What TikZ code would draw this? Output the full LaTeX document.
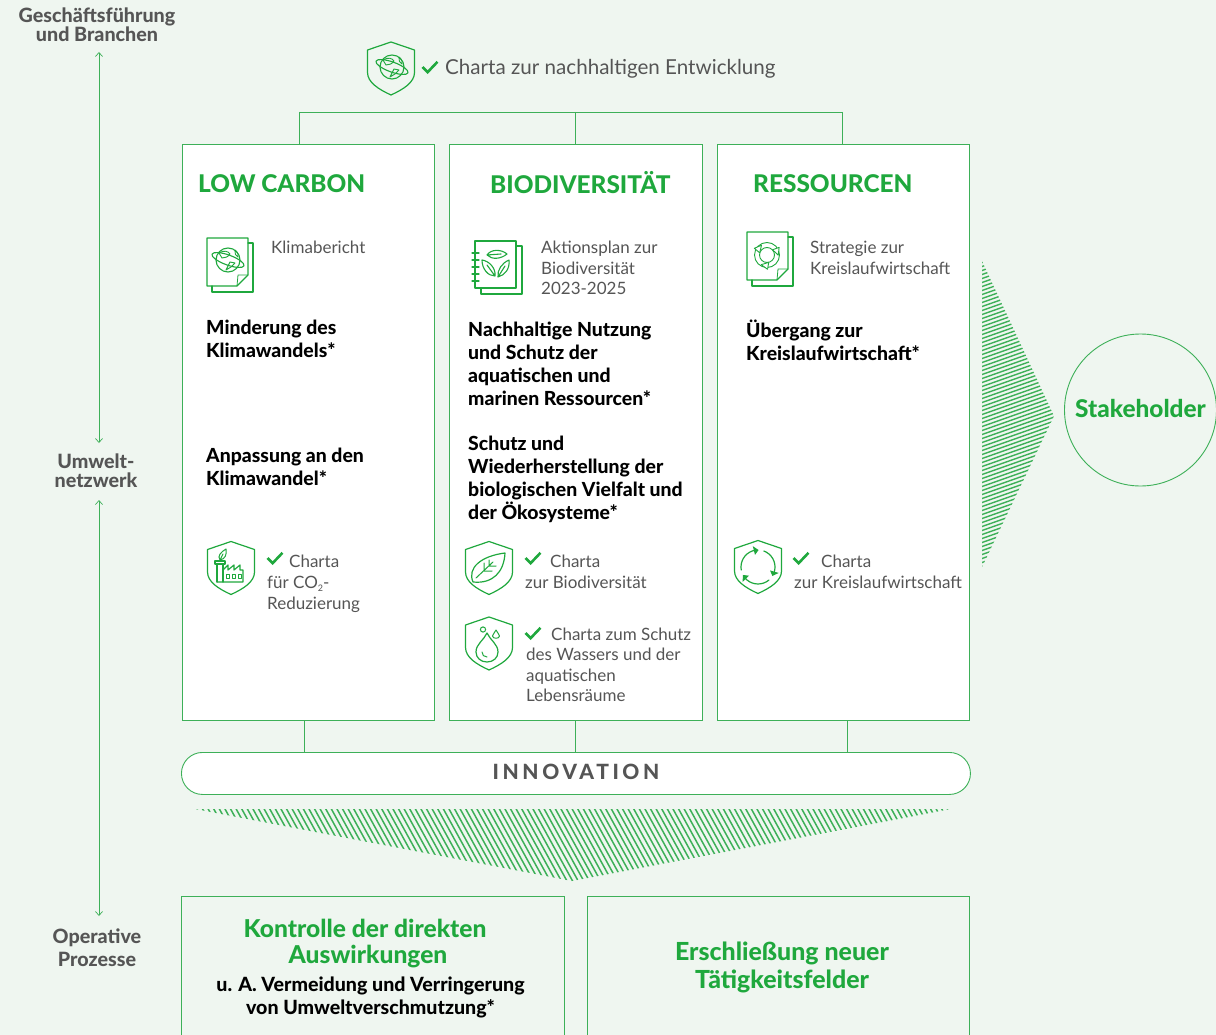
\documentclass[tikz,border=0pt]{standalone}
\usepackage{fontspec}
\setmainfont{Lato}[BoldFont={Lato Heavy}]
\usetikzlibrary{arrows.meta}
\definecolor{bgc}{HTML}{EFF6F0}
\definecolor{grn}{HTML}{1FA83D}
\definecolor{lnc}{HTML}{3DB058}
\definecolor{txt}{HTML}{555555}
\newcommand{\fs}[2]{\fontsize{#1}{#2}\selectfont}
\tikzset{
  x=1pt,y=-1pt,
  panel/.style={draw=lnc,line width=.9pt,fill=white,inner sep=0,anchor=north west},
  link/.style={draw=lnc,line width=.9pt},
  axisarrow/.style={draw=lnc,line width=.7pt,{Straight Barb[length=4pt,width=7pt]}-{Straight Barb[length=4pt,width=7pt]}},
  icon/.style={draw=grn,line width=1.2pt,line join=round,line cap=round},
  thin icon/.style={draw=grn,line width=.9pt,line join=round,line cap=round},
  sidelabel/.style={inner sep=0,align=center,text=txt,font=\fs{19.7}{19}\bfseries},
  body/.style={inner sep=0,align=left,anchor=north west,text=txt,font=\fs{17}{20.6}},
  strong/.style={inner sep=0,align=left,anchor=north west,text=black,font=\fs{19.4}{22.8}\bfseries},
  head/.style={inner sep=0,anchor=west,text=grn,font=\fs{24.4}{28}\bfseries},
  greenbig/.style={inner sep=0,align=center,text=grn,font=\fs{24.6}{28}\bfseries},
  shieldpic/.pic={\draw[icon] (0,-26.5) -- (23.5,-18.5) -- (23.5,4) .. controls (23.5,14) and (12,21) .. (0,26.5) .. controls (-12,21) and (-23.5,14) .. (-23.5,4) -- (-23.5,-18.5) -- cycle;},
  checkpic/.pic={\draw[draw=grn,line width=2.6pt,line cap=butt,line join=miter] (-7.5,0) -- (-2.4,5.2) -- (7.5,-5.2);},
  docpic/.pic={\draw[icon] (0,0) -- (41,0) -- (41,37) -- (30,48) -- (0,48) -- cycle;
     \draw[icon] (41,5) -- (46,5) -- (46,54) -- (5,54) -- (5,48);
     \draw[icon,line width=.8pt] (41,37) -- (31,37) -- (30,48);},
  notepic/.pic={\draw[icon] (0,0) rectangle (41,47);
     \draw[icon] (41,5) -- (47,5) -- (47,53) -- (6,53) -- (6,47);
     \foreach \t in {12,19,26,33,40}{\draw[icon] (-3,\t) -- (4,\t);}},
  globepic/.pic={\draw[thin icon,line width=1.1pt] (0,0) circle (12);
     \draw[thin icon,line width=1.1pt,rotate=-20] (0,0) ellipse (17 and 5);
     \draw[thin icon] (-9,-7) .. controls (-4,-10) and (0,-9) .. (2,-6) .. controls (0,-3) and (-3,-2) .. (-6,-2) -- cycle;
     \draw[thin icon] (2,2) -- (-2,10) -- (3,7) -- (7,3) -- cycle;
     \draw[thin icon] (7,-10) .. controls (10,-7) and (11,-5) .. (10,-3) .. controls (8,-4) and (6,-7) .. (7,-10);},
  cyclepic/.pic={\draw[thin icon] (0,0) circle (12.5); \draw[thin icon] (0,0) circle (7.5);
     \foreach \a in {20,140,260}{\draw[thin icon,rotate=\a,fill=white] (7,-3) -- (14,-3) -- (10.5,4) -- cycle;}},
  bigleaf/.pic={\draw[icon] (-14,14) .. controls (-20,0) and (-6,-12) .. (18,-15) .. controls (17,4) and (6,16) .. (-14,14) -- cycle;
     \draw[icon,line width=1pt] (-11,10) -- (6,-6) (-3,3) -- (-3,-5) (-3,3) -- (5,3) (2,-2) -- (2,-8) (2,-2) -- (9,-2);},
  factorypic/.pic={\draw[icon] (-14,14) -- (-14,-4) -- (-8,-4) -- (-8,14) (-16,-7) -- (-6,-7) -- (-6,-4) -- (-16,-4) -- cycle;
     \draw[icon] (-8,2) -- (-3,-3) -- (-3,2) -- (3,-3) -- (3,2) -- (9,-3) -- (9,2) -- (12,2) -- (12,14) -- (-14,14);
     \draw[icon,line width=1pt] (-5,6) rectangle (-2,10) (1,6) rectangle (4,10) (7,6) rectangle (10,10);
     \draw[icon,line width=1pt] (-11,-8) .. controls (-14,-12) and (-10,-16) .. (-5,-19) .. controls (-4,-13) and (-6,-9) .. (-11,-8) -- (-8,-14);},
  waterpic/.pic={\draw[icon] (0,-12) .. controls (3,-5) and (11,-1) .. (11,7) .. controls (11,13) and (6,17) .. (0,17) .. controls (-6,17) and (-11,13) .. (-11,7) .. controls (-11,-1) and (-3,-5) .. (0,-12) -- cycle;
     \draw[icon,line width=1pt] (-5,7) .. controls (-5,10) and (-3,12) .. (0,12);
     \draw[icon,line width=1pt] (-4,-15.5) circle (2.6);
     \draw[icon,line width=1pt] (9,-15) .. controls (10,-12) and (12.5,-11) .. (12.5,-9) .. controls (12.5,-6) and (5.5,-6) .. (5.5,-9) .. controls (5.5,-11) and (8,-12) .. (9,-15) -- cycle;},
}
\begin{document}
\begin{tikzpicture}[x=1pt,y=-1pt]
\useasboundingbox (0,0) rectangle (1216,1035);
\fill[bgc] (0,0) rectangle (1216,1035);
\clip (0,0) rectangle (1216,1035);

% side labels and axis
\node[sidelabel] (gf) at (97,24.5) {Geschäftsführung\\und Branchen};
\node[sidelabel] (uw) at (96,470.5) {Umwelt-\\netzwerk};
\node[sidelabel,font=\fs{19.7}{23}\bfseries] (op) at (97,948) {Operative\\Prozesse};
\coordinate (a1) at (99,52);
\coordinate (a2) at (99,443);
\coordinate (a3) at (99,500);
\coordinate (a4) at (99,916);
\draw[axisarrow] (a1) -- (a2);
\draw[axisarrow] (a3) -- (a4);

% panels
\node[panel,minimum width=252pt,minimum height=576pt] (low) at (181.7,143.7) {};
\node[panel,minimum width=253pt,minimum height=576pt] (bio) at (448.7,143.7) {};
\node[panel,minimum width=252pt,minimum height=576pt] (res) at (716.7,143.7) {};
\node[panel,minimum width=789pt,minimum height=42pt,rounded corners=21pt] (inno) at (181,752) {};
\node[panel,minimum width=383pt,minimum height=160pt,fill=none] (kontr) at (181,896) {};
\node[panel,minimum width=382pt,minimum height=160pt,fill=none] (ersch) at (587,896) {};
\node[draw=lnc,line width=.9pt,circle,minimum size=152pt,inner sep=0] (stake) at (1140.5,410) {};

% connectors
\coordinate (b1) at (299.7,112);
\coordinate (b2) at (575.5,112);
\coordinate (b3) at (842.7,112);
\draw[link] (b1) -- (b3);
\draw[link] (b1) -- (b1 |- low.north);
\draw[link] (b2) -- (b2 |- bio.north);
\draw[link] (b3) -- (b3 |- res.north);
\coordinate (c1) at (304,752);
\coordinate (c2) at (575.5,752);
\coordinate (c3) at (847,752);
\draw[link] (c1) -- (c1 |- low.south);
\draw[link] (c2) -- (c2 |- bio.south);
\draw[link] (c3) -- (c3 |- res.south);

% hatched triangles
\begin{scope}
\clip (982,261) -- (1054,416) -- (982,567) -- cycle;
\foreach \q in {-36,-32,...,320}{\draw[lnc,line width=1.4pt] (975,285+\q) -- (1060,255+\q);}
\end{scope}
\begin{scope}
\clip (195,809) -- (951,809) -- (572,881) -- cycle;
\foreach \q in {150,155.6,...,960}{\draw[lnc,line width=1.5pt] (\q,805) -- (\q+44,885);}
\end{scope}

% top charter
\pic at (391,68.5) {shieldpic};
\pic at (392,67) {globepic};
\pic at (430,67) {checkpic};
\node[body,font=\fs{20.6}{24}] (top) at (445,59.5) {Charta zur nachhaltigen Entwicklung};

% titles
\node[head] (t1) at (198,184) {LOW CARBON};
\node[head] (t2) at (490,183) {BIODIVERSITÄT};
\node[head] (t3) at (753,184) {RESSOURCEN};

% low carbon
\pic at (207,238) {docpic};
\pic at (228,260) {globepic};
\node[body] (k1) at (271,241) {Klimabericht};
\node[strong] (k2) at (206,320) {Minderung des\\Klimawandels*};
\node[strong] (k3) at (206,448) {Anpassung an den\\Klimawandel*};
\pic at (231,568) {shieldpic};
\pic at (231,568) {factorypic};
\pic at (275,558) {checkpic};
\node[body] (k4) at (289,555) {Charta};
\node[body] (k5) at (267,576) {für CO\raisebox{-2.5pt}{\fs{9}{9}2}-\\Reduzierung};

% biodiversity
\pic at (475,241) {notepic};
\begin{scope}[shift={(495,263)}]
\draw[thin icon,line width=1.1pt] (-8,-8) .. controls (-4,-14) and (6,-14) .. (12,-9) .. controls (6,-4) and (-3,-3) .. (-8,-8) -- (6,-9);
\draw[thin icon,line width=1.1pt] (0,13) .. controls (-7,13) and (-13,6) .. (-13,-3) .. controls (-6,-2) and (1,5) .. (0,13) -- (-8,2);
\draw[thin icon,line width=1.1pt] (3,14) .. controls (10,12) and (15,6) .. (14,-3) .. controls (7,0) and (2,7) .. (3,14) -- (10,3);
\end{scope}
\node[body] (d1) at (541,241) {Aktionsplan zur\\Biodiversität\\2023-2025};
\node[strong] (d2) at (468,322) {Nachhaltige Nutzung\\und Schutz der\\aquatischen und\\marinen Ressourcen*};
\node[strong] (d3) at (468,436) {Schutz und\\Wiederherstellung der\\biologischen Vielfalt und\\der Ökosysteme*};
\pic at (489,568) {shieldpic};
\pic at (487,568) {bigleaf};
\pic at (533,558) {checkpic};
\node[body] (d4) at (550,555) {Charta};
\node[body] (d5) at (525,576) {zur Biodiversität};
\pic at (489,643.5) {shieldpic};
\pic at (487,645) {waterpic};
\pic at (533,633) {checkpic};
\node[body] (d6) at (551,628) {Charta zum Schutz};
\node[body] (d7) at (526,648) {des Wassers und der\\aquatischen\\Lebensräume};

% resources
\pic at (747,232) {docpic};
\pic at (767,255) {cyclepic};
\node[body] (r1) at (810,241) {Strategie zur\\Kreislaufwirtschaft};
\node[strong] (r2) at (746,320) {Übergang zur\\Kreislaufwirtschaft*};
\pic at (758,567) {shieldpic};
\begin{scope}[shift={(758,567)}]
\foreach \a in {0,120,240}{
  \draw[icon] plot[domain={\a-70}:{\a+20},samples=10,smooth] ({17*cos(\x)},{17*sin(\x)});
  \fill[grn] ({17*cos(\a+32)},{17*sin(\a+32)}) -- ({12.5*cos(\a+16)},{12.5*sin(\a+16)}) -- ({21.5*cos(\a+16)},{21.5*sin(\a+16)}) -- cycle;}
\end{scope}
\pic at (801,558) {checkpic};
\node[body] (r3) at (821,555) {Charta};
\node[body] (r4) at (794,576) {zur Kreislaufwirtschaft};

% centre labels
\node[inner sep=0,text=txt,font=\fs{21}{24}\bfseries] (il) at (576,772) {\addfontfeatures{LetterSpace=17}INNOVATION};
\node[inner sep=0,text=grn,font=\fs{24.4}{28}\bfseries] (sl) at (1140.5,408.5) {Stakeholder};
\node[greenbig] (g1) at (365,928) {Kontrolle der direkten};
\node[greenbig] (g2) at (368,956.5) {Auswirkungen};
\node[inner sep=0,align=center,text=black,font=\fs{19.6}{23}\bfseries] (g3) at (370.5,997) {u. A. Vermeidung und Verringerung\\von Umweltverschmutzung*};
\node[greenbig,font=\fs{24.9}{28}\bfseries] (g4) at (782,967) {Erschließung neuer\\Tätigkeitsfelder};
\end{tikzpicture}
\end{document}
